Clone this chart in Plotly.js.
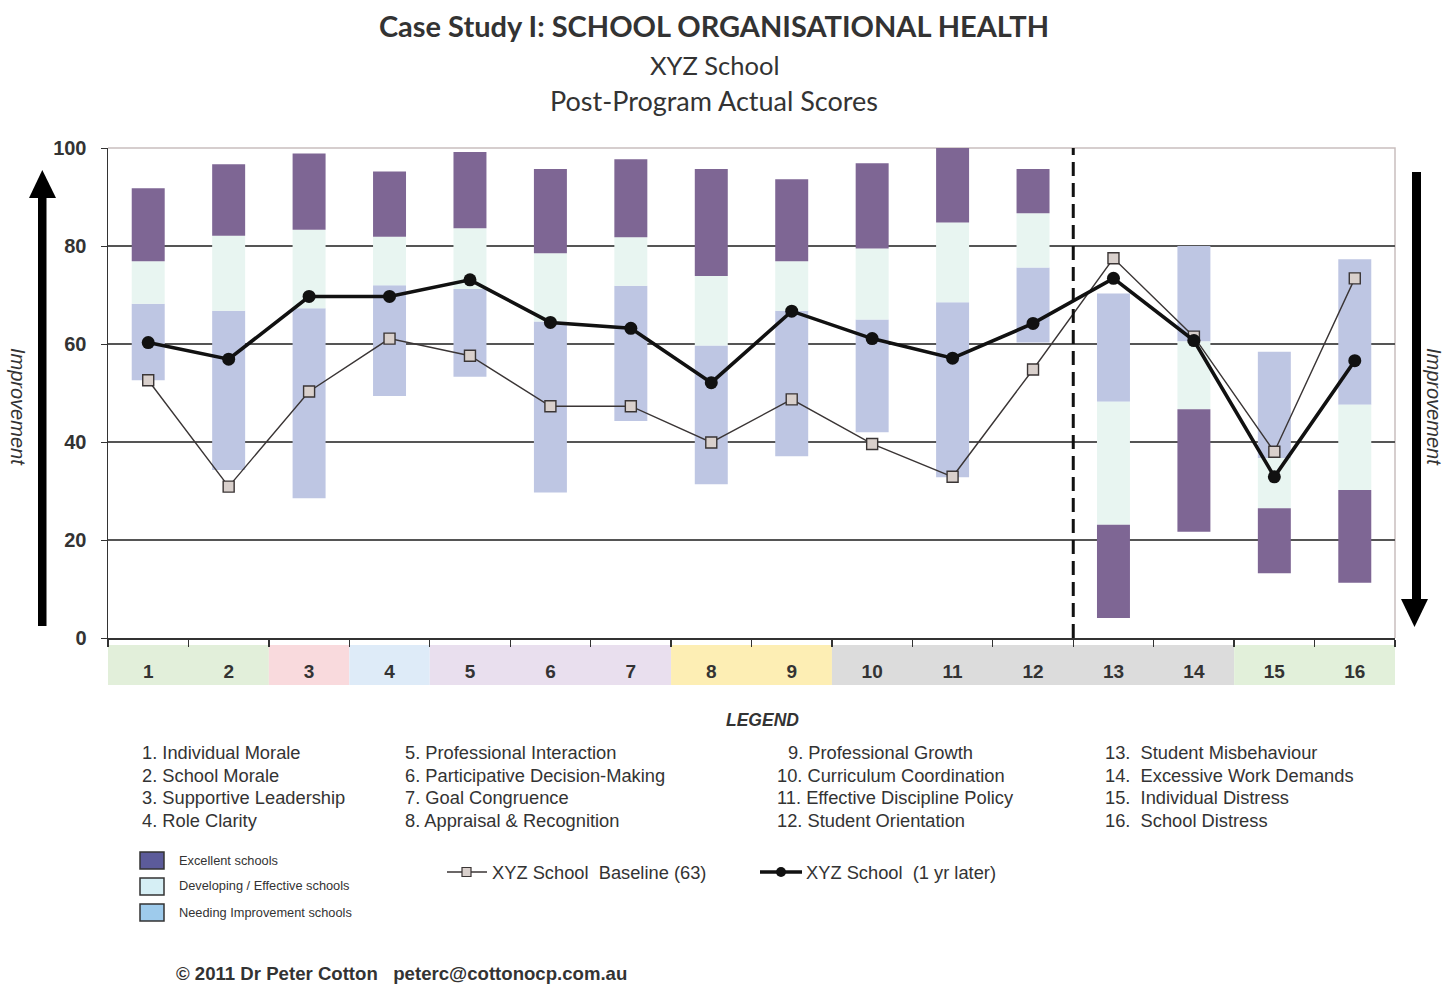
<!DOCTYPE html>
<html>
<head>
<meta charset="utf-8">
<script src="https://cdn.plot.ly/plotly-3.0.1.min.js"></script>
<style>
  html, body { margin: 0; padding: 0; background: #fff; }
  #chart { width: 1452px; height: 985px; }
</style>
</head>
<body>
<div id="chart"></div>
<script>
// ---------------- DATA ----------------
const categories = [1, 2, 3, 4, 5, 6, 7, 8, 9, 10, 11, 12, 13, 14, 15, 16];
const categoryNames = [
  "Individual Morale", "School Morale", "Supportive Leadership", "Role Clarity",
  "Professional Interaction", "Participative Decision-Making", "Goal Congruence", "Appraisal & Recognition",
  "Professional Growth", "Curriculum Coordination", "Effective Discipline Policy", "Student Orientation",
  "Student Misbehaviour", "Excessive Work Demands", "Individual Distress", "School Distress"
];
// Norm bands (lower and upper bounds of each band)
const excellentLow  = [76.9, 82.1, 83.3, 81.9, 83.6, 78.5, 81.8, 73.9, 76.9, 79.5, 84.8, 86.7,  4.1, 21.7, 13.2, 11.3];
const excellentHigh = [91.8, 96.7, 98.9, 95.2, 99.2, 95.7, 97.7, 95.7, 93.6, 96.9, 100.0, 95.7, 23.1, 46.7, 26.5, 30.2];
const developingLow  = [68.2, 66.8, 67.3, 72.0, 71.2, 64.6, 71.9, 59.7, 66.8, 65.0, 68.5, 75.6, 23.1, 46.7, 26.5, 30.2];
const developingHigh = [76.9, 82.1, 83.3, 81.9, 83.6, 78.5, 81.8, 73.9, 76.9, 79.5, 84.8, 86.7, 48.2, 60.5, 36.7, 47.6];
const needingLow  = [52.6, 34.3, 28.5, 49.4, 53.3, 29.7, 44.3, 31.4, 37.1, 42.0, 32.8, 60.3, 48.2, 60.5, 36.7, 47.6];
const needingHigh = [68.2, 66.8, 67.3, 72.0, 71.2, 64.6, 71.9, 59.7, 66.8, 65.0, 68.5, 75.6, 70.3, 80.0, 58.4, 77.3];
// School scores
const baseline = [52.6, 30.9, 50.3, 61.1, 57.6, 47.3, 47.3, 39.9, 48.7, 39.6, 32.9, 54.8, 77.5, 61.5, 38.0, 73.4];
const oneYearLater = [60.3, 56.9, 69.7, 69.7, 73.1, 64.4, 63.2, 52.1, 66.7, 61.1, 57.1, 64.2, 73.4, 60.7, 32.9, 56.6];
// Category groups for the coloured band under the axis
const groupStart = [1, 3, 4, 5, 8, 10, 15];
const groupEnd   = [2, 3, 4, 7, 9, 14, 16];
const yTicks = [0, 20, 40, 60, 80, 100];

const titleText = "Case Study I: SCHOOL ORGANISATIONAL HEALTH";
const subtitle1 = "XYZ School";
const subtitle2 = "Post-Program Actual Scores";
const bandLabels = ["Excellent schools", "Developing / Effective schools", "Needing Improvement schools"];
const lineLabels = ["XYZ School  Baseline (63)", "XYZ School  (1 yr later)"];
const footer = "© 2011 Dr Peter Cotton   peterc@cottonocp.com.au";

// ---------------- STYLE ----------------
const groupColors = ["#e2efda", "#f9dadd", "#deebf8", "#e9dfee", "#fdeeb4", "#dcdcdc", "#e2f0da"];
const C_EXC = "#7e6694", C_DEV = "#e8f5f1", C_NEED = "#bec6e3";
const L = 108, R = 1395, T = 148, B = 638, W = 1452, H = 985;
const px = x => (x - L) / (R - L);
const py = y => (B - y) / (B - T);

function diff(a, b) { return a.map((v, i) => v - b[i]); }

const barW = 0.41;
const traces = [
  { type: "bar", x: categories, base: needingLow, y: diff(needingHigh, needingLow), width: barW,
    marker: { color: C_NEED, line: { width: 0 } }, showlegend: false, hoverinfo: "skip" },
  { type: "bar", x: categories, base: developingLow, y: diff(developingHigh, developingLow), width: barW,
    marker: { color: C_DEV, line: { width: 0 } }, showlegend: false, hoverinfo: "skip" },
  { type: "bar", x: categories, base: excellentLow, y: diff(excellentHigh, excellentLow), width: barW,
    marker: { color: C_EXC, line: { width: 0 } }, showlegend: false, hoverinfo: "skip" },
  { type: "scatter", mode: "lines+markers", x: categories, y: baseline, showlegend: false,
    line: { color: "#3a3535", width: 1.4 },
    marker: { symbol: "square", size: 11, color: "#d9d0cc", line: { color: "#3a3535", width: 1.4 } } },
  { type: "scatter", mode: "lines+markers", x: categories, y: oneYearLater, showlegend: false,
    line: { color: "#111", width: 3.6 },
    marker: { symbol: "circle", size: 13, color: "#111" } }
];

const shapes = [];
// coloured category band
const bandTop = py(645), bandBot = py(685);
groupStart.forEach((s, i) => {
  shapes.push({ type: "rect", xref: "x", yref: "paper", x0: s - 0.5, x1: groupEnd[i] + 0.5,
    y0: bandBot, y1: bandTop, fillcolor: groupColors[i], line: { width: 0 }, layer: "below" });
});
// top and right plot border
shapes.push({ type: "path", xref: "paper", yref: "paper", path: "M0,1 L1,1 L1,0",
  line: { color: "#c9bfbf", width: 1.5 }, layer: "below" });
// dashed separator
shapes.push({ type: "line", xref: "x", yref: "y", x0: 12.5, x1: 12.5, y0: 0, y1: 100,
  line: { color: "#111", width: 3, dash: "14px,7px" } });
// arrows
function rectPath(x0, y0, x1, y1) {
  return `M${px(x0)},${py(y0)} L${px(x1)},${py(y0)} L${px(x1)},${py(y1)} L${px(x0)},${py(y1)} Z`;
}
function triPath(a, b, c) {
  return `M${px(a[0])},${py(a[1])} L${px(b[0])},${py(b[1])} L${px(c[0])},${py(c[1])} Z`;
}
shapes.push({ type: "path", xref: "paper", yref: "paper", path: rectPath(38, 196, 46.5, 626),
  fillcolor: "#000", line: { width: 0 } });
shapes.push({ type: "path", xref: "paper", yref: "paper", path: triPath([29, 198], [56, 198], [42.3, 170]),
  fillcolor: "#000", line: { width: 0 } });
shapes.push({ type: "path", xref: "paper", yref: "paper", path: rectPath(1412, 172, 1421, 602),
  fillcolor: "#000", line: { width: 0 } });
shapes.push({ type: "path", xref: "paper", yref: "paper", path: triPath([1401, 599], [1428, 599], [1414.5, 627]),
  fillcolor: "#000", line: { width: 0 } });
// legend swatches
const swatchColors = ["#5c5b9a", "#d6eff5", "#9ecbec"];
[852, 878, 904].forEach((y, i) => {
  shapes.push({ type: "rect", xref: "paper", yref: "paper", x0: px(140), x1: px(164), y0: py(y + 17), y1: py(y),
    fillcolor: swatchColors[i], line: { color: "#333", width: 1.5 } });
});
// line legend samples
shapes.push({ type: "line", xref: "paper", yref: "paper", x0: px(447), x1: px(487), y0: py(872), y1: py(872),
  line: { color: "#3a3535", width: 1.4 } });
shapes.push({ type: "rect", xref: "paper", yref: "paper", x0: px(462), x1: px(471), y0: py(876.5), y1: py(867.5),
  fillcolor: "#d9d0cc", line: { color: "#3a3535", width: 1.2 } });
shapes.push({ type: "line", xref: "paper", yref: "paper", x0: px(760), x1: px(802), y0: py(872), y1: py(872),
  line: { color: "#111", width: 3.6 } });
shapes.push({ type: "circle", xref: "paper", yref: "paper", x0: px(776), x1: px(786), y0: py(877), y1: py(867),
  fillcolor: "#111", line: { width: 0 } });

const annotations = [];
const font = "Liberation Sans, Arial, sans-serif";
const titleFont = "Lato, Open Sans, sans-serif";
function ann(text, x, y, opts) {
  annotations.push(Object.assign({ text, xref: "paper", yref: "paper", x: px(x), y: py(y),
    showarrow: false, xanchor: "left", yanchor: "middle",
    font: { family: font, size: 18.3, color: "#333" } }, opts || {}));
}
ann(subtitle1, 714, 65, { xanchor: "center", font: { family: titleFont, size: 25.5, color: "#333" } });
ann(subtitle2, 714, 101, { xanchor: "center", font: { family: titleFont, size: 27, color: "#333" } });
ann("<i>Improvement</i>", 18, 407,
  { xanchor: "center", textangle: 90, font: { family: font, size: 20, color: "#333" } });
ann("<i>Improvement</i>", 1434, 407,
  { xanchor: "center", textangle: 90, font: { family: font, size: 20, color: "#333" } });
ann("<b><i>LEGEND</i></b>", 762, 720, { xanchor: "center", font: { family: font, size: 17.5, color: "#333" } });

const colX = [140, 403, 775, 1103];
const rowY = [752, 775, 797, 820];
categories.forEach((c, i) => {
  const col = Math.floor(i / 4), row = i % 4;
  let x = colX[col];
  let label = c + ". " + categoryNames[i];
  if (col === 2 && c < 10) x = 786;
  if (col === 3) label = c + ".  " + categoryNames[i];
  ann(label, x, rowY[row]);
});
bandLabels.forEach((t, i) => ann(t, 177, [860, 886, 912][i], { font: { family: font, size: 12.8, color: "#333" } }));
ann(lineLabels[0], 490, 872, { font: { family: font, size: 18.3, color: "#333" } });
ann(lineLabels[1], 804, 872, { font: { family: font, size: 18.3, color: "#333" } });
ann("<b>" + footer + "</b>", 174, 973, { font: { family: font, size: 18.6, color: "#333" } });

const layout = {
  width: W, height: H,
  margin: { l: L, r: W - R, t: T, b: H - B, pad: 0 },
  paper_bgcolor: "#fff", plot_bgcolor: "#fff",
  barmode: "overlay",
  showlegend: false,
  title: { text: "<b>" + titleText + "</b>", xref: "container", yref: "container",
    x: 714 / W, y: 1 - 27 / H, xanchor: "center", yanchor: "middle",
    font: { family: titleFont, size: 29, color: "#333" } },
  xaxis: {
    range: [0.5, 16.5], tickmode: "array", tickvals: categories, ticktext: categories.map(String),
    ticks: "", showgrid: false, zeroline: false, showline: true, linecolor: "#333", linewidth: 1.5,
    tickfont: { family: font, size: 19, color: "#333", weight: "bold" }, ticklabelstandoff: 16,
    minor: { tickmode: "linear", tick0: 0.5, dtick: 1, ticks: "outside", ticklen: 7, tickcolor: "#333", tickwidth: 1.3, showgrid: false }
  },
  yaxis: {
    range: [0, 100], tickmode: "array", tickvals: yTicks, ticks: "outside", ticklen: 6, tickcolor: "#333",
    showgrid: true, gridcolor: "#555", gridwidth: 1.2, zeroline: false, showline: true, linecolor: "#333", linewidth: 1.5,
    tickfont: { family: font, size: 20, color: "#333", weight: "bold" }, ticklabelstandoff: 10
  },
  shapes, annotations
};

Plotly.newPlot("chart", traces, layout, { displayModeBar: false, staticPlot: true });
</script>
</body>
</html>
